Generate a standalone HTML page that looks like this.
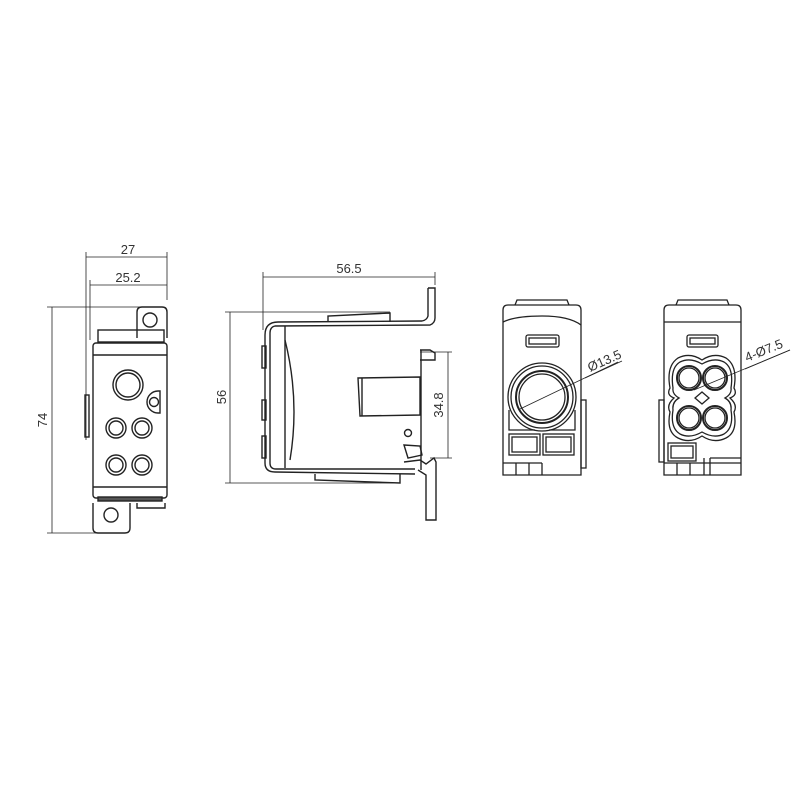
<!DOCTYPE html>
<html><head><meta charset="utf-8"><style>
html,body{margin:0;padding:0;background:#fff;width:800px;height:800px;overflow:hidden}
svg{display:block}
text{font-family:"Liberation Sans",sans-serif;font-size:13px;fill:#333}
</style></head><body>
<svg width="800" height="800" viewBox="0 0 800 800" xmlns="http://www.w3.org/2000/svg">
<g fill="none" stroke="#222" stroke-width="1.4">
<!-- VIEW 1 -->
<g stroke-width="0.8">
<line x1="86" y1="257" x2="167" y2="257"/><line x1="86" y1="252" x2="86" y2="440"/><line x1="167" y1="252" x2="167" y2="300"/>
<line x1="90" y1="285" x2="167" y2="285"/><line x1="90" y1="280" x2="90" y2="340"/>
<line x1="52" y1="307" x2="52" y2="533"/><line x1="47" y1="307" x2="140" y2="307"/><line x1="47" y1="533" x2="105" y2="533"/>
</g>
<text x="128" y="254" text-anchor="middle" stroke="none">27</text>
<text x="128" y="282" text-anchor="middle" stroke="none">25.2</text>
<text x="0" y="0" transform="translate(47,420) rotate(-90)" text-anchor="middle" stroke="none">74</text>
<path d="M137 338 L137 312 Q137 307 142 307 L162 307 Q167 307 167 312 L167 338"/>
<circle cx="150" cy="320" r="7"/>
<rect x="98" y="330" width="66" height="12"/>
<rect x="93" y="343" width="74" height="155" rx="3"/>
<line x1="93" y1="355" x2="167" y2="355"/><line x1="93" y1="487" x2="167" y2="487"/>
<rect x="98" y="497" width="64" height="4" fill="#555"/>
<path d="M93 503 L93 528 Q93 533 98 533 L125 533 Q130 533 130 528 L130 503"/>
<circle cx="111" cy="515" r="7"/>
<path d="M137 503 L137 508 L165 508 L165 503"/>
<circle cx="128" cy="385" r="15"/><circle cx="128" cy="385" r="12"/>
<path d="M158 391 A10 10 0 0 0 158 413 L160 413 L160 391Z"/><circle cx="154" cy="402" r="4.5"/>
<circle cx="116" cy="428" r="10"/><circle cx="116" cy="428" r="7"/>
<circle cx="142" cy="428" r="10"/><circle cx="142" cy="428" r="7"/>
<circle cx="116" cy="465" r="10"/><circle cx="116" cy="465" r="7"/>
<circle cx="142" cy="465" r="10"/><circle cx="142" cy="465" r="7"/>
<rect x="85" y="395" width="4" height="42"/>

<!-- VIEW 2 -->
<g stroke-width="0.8">
<line x1="263" y1="277" x2="435" y2="277"/><line x1="263" y1="272" x2="263" y2="330"/><line x1="435" y1="272" x2="435" y2="285"/>
<line x1="230" y1="312" x2="230" y2="483"/><line x1="225" y1="312" x2="390" y2="312"/><line x1="225" y1="483" x2="400" y2="483"/>
<line x1="448" y1="352" x2="448" y2="458"/><line x1="420" y1="352" x2="452" y2="352"/><line x1="430" y1="458" x2="452" y2="458"/>
</g>
<text x="349" y="273" text-anchor="middle" stroke="none">56.5</text>
<text x="0" y="0" transform="translate(226,397) rotate(-90)" text-anchor="middle" stroke="none">56</text>
<text x="0" y="0" transform="translate(443,405) rotate(-90)" text-anchor="middle" stroke="none">34.8</text>
<path d="M428 288 L435 288 L435 318 Q435 323 430 325 L275 326 Q270 327 270 333 L270 463 Q270 469 276 469 L415 469"/>
<path d="M428 288 L428 316 Q427 320 422 321 L278 322 Q265 322 265 335 L265 463 Q265 472 275 472 L415 474"/>
<path d="M285 326 L285 468"/><path d="M285 340 Q300 400 290 460"/>
<rect x="262" y="346" width="4" height="22"/><rect x="262" y="400" width="4" height="20"/><rect x="262" y="436" width="4" height="22"/>
<path d="M328 322 L328 316 L390 313 L390 322"/>
<path d="M315 474 L315 480 L400 483 L400 474"/>
<path d="M420 350 L430 350 L435 353 L435 360 L420 360"/>
<line x1="421" y1="350" x2="421" y2="470"/>
<path d="M358 378 L420 377 L420 415 L360 416 Z"/><line x1="362" y1="378" x2="362" y2="416"/>
<circle cx="408" cy="433" r="3.5"/>
<path d="M404 445 L420 446 L422 455 L408 458 Z"/>
<path d="M404 462 L420 460 L426 464 L434 458 L436 462 L436 520 L426 520 L426 475 L418 470"/>
</g>

<!-- VIEW 3 -->
<g fill="none" stroke="#222" stroke-width="1.3">
<path d="M503 475 L503 310 Q503 305 508 305 L576 305 Q581 305 581 310 L581 475 Z"/>
<path d="M515 305 L517 300 L567 300 L569 305"/>
<path d="M503 322 Q515 316 542 316 Q569 316 581 325"/>
<rect x="526" y="335" width="33" height="12" rx="2"/><rect x="529" y="338" width="27" height="6"/>
<circle cx="542" cy="397" r="34"/><circle cx="542" cy="397" r="31"/><circle cx="542" cy="397" r="26" stroke-width="2"/><circle cx="542" cy="397" r="23"/>
<path d="M509 410 L509 430 L535 430"/><path d="M575 410 L575 430 L549 430"/>
<rect x="509" y="434" width="31" height="21"/><rect x="512" y="437" width="25" height="15"/>
<rect x="543" y="434" width="31" height="21"/><rect x="546" y="437" width="25" height="15"/>
<line x1="503" y1="463" x2="542" y2="463"/><line x1="516" y1="463" x2="516" y2="475"/><line x1="529" y1="463" x2="529" y2="475"/><line x1="542" y1="463" x2="542" y2="475"/>
<rect x="581" y="400" width="5" height="68"/>
<g stroke-width="0.8"><line x1="520" y1="409" x2="618" y2="362"/><line x1="585" y1="378" x2="622" y2="361"/></g>
<text x="0" y="0" transform="translate(590,372) rotate(-24)" stroke="none">Ø13.5</text>

<!-- VIEW 4 -->
<path d="M664 475 L664 310 Q664 305 669 305 L736 305 Q741 305 741 310 L741 475 Z"/>
<path d="M676 305 L678 300 L727 300 L729 305"/>
<line x1="664" y1="322" x2="741" y2="322"/>
<rect x="687" y="335" width="31" height="12" rx="2"/><rect x="690" y="338" width="25" height="6"/>
<path d="M678 358 Q690 352 702 360 Q714 352 726 358 Q738 366 734 388 Q738 395 730 398 Q738 405 734 412 Q738 432 726 438 Q714 444 702 436 Q690 444 678 438 Q666 432 670 412 Q666 405 674 398 Q666 395 670 388 Q666 366 678 358 Z"/>
<path d="M680 362 Q690 357 702 364 Q714 357 724 362 Q734 368 731 388 Q732 394 725 398 Q732 402 731 410 Q734 428 724 434 Q714 439 702 432 Q690 439 680 434 Q670 428 673 410 Q672 402 679 398 Q672 394 673 388 Q670 368 680 362 Z"/>
<circle cx="689" cy="378" r="12" stroke-width="2"/><circle cx="689" cy="378" r="10"/>
<circle cx="715" cy="378" r="12" stroke-width="2"/><circle cx="715" cy="378" r="10"/>
<circle cx="689" cy="418" r="12" stroke-width="2"/><circle cx="689" cy="418" r="10"/>
<circle cx="715" cy="418" r="12" stroke-width="2"/><circle cx="715" cy="418" r="10"/>
<path d="M702 392 L709 398 L702 404 L695 398 Z"/>
<rect x="659" y="400" width="5" height="62"/>
<rect x="668" y="443" width="28" height="18"/><rect x="671" y="446" width="22" height="12"/>
<line x1="664" y1="463" x2="741" y2="463"/><line x1="677" y1="463" x2="677" y2="475"/><line x1="690" y1="463" x2="690" y2="475"/><line x1="704" y1="458" x2="704" y2="475"/><line x1="710" y1="458" x2="741" y2="458"/><line x1="710" y1="458" x2="710" y2="475"/>
<g stroke-width="0.8"><line x1="694" y1="390" x2="790" y2="350"/><line x1="745" y1="369" x2="790" y2="350"/></g>
<text x="0" y="0" transform="translate(747,362) rotate(-22)" stroke="none">4-Ø7.5</text>
</g>
</svg>
</body></html>
